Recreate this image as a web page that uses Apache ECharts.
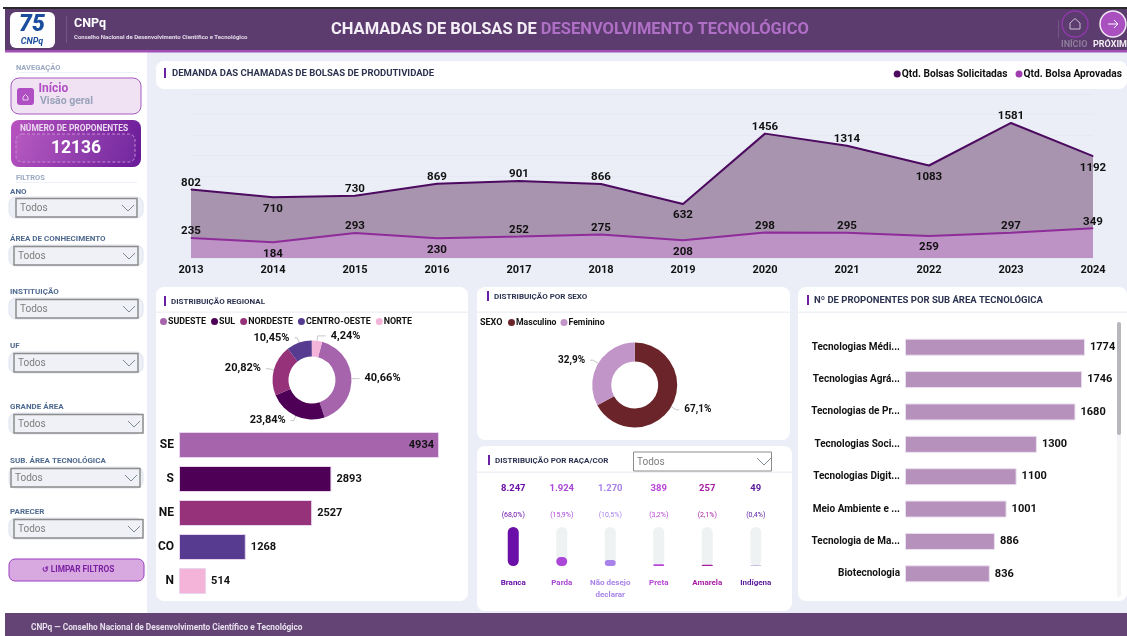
<!DOCTYPE html>
<html>
<head>
<meta charset="utf-8">
<title>CNPq</title>
<script src="https://cdn.jsdelivr.net/npm/echarts@6/dist/echarts.min.js"></script>
<style>
  html, body { margin: 0; padding: 0; background: #ffffff; overflow: hidden; }
  #root { width: 1127px; height: 636px; }
</style>
</head>
<body>
<div id="root"></div>
<script>
// demanda por ano
const years = ["2013", "2014", "2015", "2016", "2017", "2018", "2019", "2020", "2021", "2022", "2023", "2024"];
const solicitadas = [802, 710, 730, 869, 901, 866, 632, 1456, 1314, 1083, 1581, 1192];
const aprovadas = [235, 184, 293, 230, 252, 275, 208, 298, 295, 259, 297, 349];

// regioes
const regionNames = ["SUDESTE", "SUL", "NORDESTE", "CENTRO-OESTE", "NORTE"];
const regionCodes = ["SE", "S", "NE", "CO", "N"];
const regionValues = [4934, 2893, 2527, 1268, 514];

// sexo
const sexNames = ["Masculino", "Feminino"];
const sexValues = [67.1, 32.9];

// raca/cor
const raceNames = ["Branca", "Parda", "Não desejo\ndeclarar", "Preta", "Amarela", "Indígena"];
const raceValues = [8247, 1924, 1270, 389, 257, 49];
const racePct = ["68,0", "15,9", "10,5", "3,2", "2,1", "0,4"];

// sub areas
const subAreas = ["Tecnologias Médi...", "Tecnologias Agrá...", "Tecnologias de Pr...", "Tecnologias Soci...", "Tecnologias Digit...", "Meio Ambiente e ...", "Tecnologia de Ma...", "Biotecnologia"];
const subAreaValues = [1774, 1746, 1680, 1300, 1100, 1001, 886, 836];

const totalProponentes = "12136";

const FONT = "Roboto, sans-serif";
const regionColors = ["#a564ab", "#4e0056", "#953279", "#563b90", "#f4b4da"];
const sexColors = ["#6b2429", "#c295c8"];
const raceColors = ["#6a0fa8", "#ab47d6", "#a883ea", "#b946d8", "#a71ea3", "#5a189a"];

// pontos cujo rotulo fica abaixo da linha
const belowSolicitadas = [1, 6, 9, 11];
const belowAprovadas = [1, 3, 6, 9];

function rect(x, y, w, h, fill, r, extra) {
  return Object.assign({
    type: "rect", silent: true,
    shape: { x: x, y: y, width: w, height: h, r: r || 0 },
    style: { fill: fill }
  }, extra || {});
}

function text(x, y, str, font, fill, align) {
  return {
    type: "text", silent: true, x: x, y: y,
    style: { text: str, font: font + " " + FONT, fill: fill, align: align || "left", verticalAlign: "middle" }
  };
}

function line(points, stroke, width) {
  return {
    type: "polyline", silent: true,
    shape: { points: points },
    style: { stroke: stroke, lineWidth: width || 1, fill: null }
  };
}

function card(x, y, w, h, title, titleX, titleY, markX, font) {
  return [
    rect(x, y, w, h, "#ffffff", 8),
    rect(markX, titleY - 5, 2, 10, "#6a1fa5"),
    text(titleX, titleY + 0.5, title, font, "#2c3350")
  ];
}

function select(label, labelY, outerY, x, w) {
  return [
    text(10, labelY, label, "bold 8px", "#4f6a8f"),
    rect(9, outerY, 134, 21, "#eef0f7", 7, { style: { fill: "#eef0f7", stroke: "#dfe3ee", lineWidth: 1 } }),
    rect(x, outerY + 1.5, w, 18.5, "#eff1f6", 0, { style: { fill: "#eff1f6", stroke: "#8c8c8c", lineWidth: 1.5 } }),
    text(x + 4, outerY + 11.5, "Todos", "10px", "#7d7d7d"),
    line([[x + w - 15, outerY + 8], [x + w - 9, outerY + 14], [x + w - 3, outerY + 8]], "#7d8a94", 1)
  ];
}

const chrome = [].concat(
  // fundos
  rect(0, 0, 1127, 636, "#ffffff"),
  rect(147, 52, 980, 562, "#ebeef7"),
  rect(3, 7, 1124, 2, "#2a2a2a"),
  rect(5, 9, 1122, 41, "#5c3b6e"),
  rect(5, 50, 1122, 2.5, "#a24fb8"),
  rect(5, 613, 1122, 23, "#634475"),
  text(31, 628, "CNPq — Conselho Nacional de Desenvolvimento Científico e Tecnológico", "bold 8.3px", "#e8e0ec"),

  // cabecalho
  rect(10, 12, 45, 36, "#ffffff", 6),
  {
    type: "text", silent: true, x: 32, y: 25,
    style: { text: "75", font: "italic 900 23px " + FONT, fill: "#1b4f9e", align: "center", verticalAlign: "middle" }
  },
  {
    type: "text", silent: true, x: 32, y: 41.5,
    style: { text: "CNPq", font: "italic bold 9px " + FONT, fill: "#1b4f9e", align: "center", verticalAlign: "middle" }
  },
  rect(66, 16, 1, 27, "#725584"),
  text(74, 24, "CNPq", "bold 12.5px", "#ffffff"),
  text(74, 37, "Conselho Nacional de Desenvolvimento Científico e Tecnológico", "bold 6px", "#e3dbe8"),
  {
    type: "text", silent: true, x: 331, y: 30,
    style: {
      text: "{a|CHAMADAS DE BOLSAS DE }{b|DESENVOLVIMENTO TECNOLÓGICO}",
      verticalAlign: "middle",
      rich: {
        a: { font: "bold 16.5px " + FONT, fill: "#f4eff6" },
        b: { font: "bold 16.5px " + FONT, fill: "#b06fc6" }
      }
    }
  },
  rect(1058, 20, 1, 18, "#725584"),
  { type: "circle", silent: true, shape: { cx: 1075, cy: 24, r: 13 }, style: { fill: "none", stroke: "#8d3aa8", lineWidth: 1.5 } },
  line([[1070, 23], [1075, 18.5], [1080, 23], [1080, 29], [1070, 29], [1070, 23]], "#cdbdd6", 1),
  { type: "circle", silent: true, shape: { cx: 1113, cy: 24, r: 13 }, style: { fill: "#a94fc0", stroke: "#f2e8f5", lineWidth: 1.5 } },
  line([[1108, 24], [1118, 24]], "#ffffff", 1),
  line([[1114, 20], [1118, 24], [1114, 28]], "#ffffff", 1),
  text(1061, 45, "INÍCIO", "bold 9px", "#8e7d9a"),
  text(1093, 45, "PRÓXIM", "bold 9px", "#f2eef4"),

  // barra lateral
  text(16, 68, "NAVEGAÇÃO", "bold 7.5px", "#9aa8c0"),
  rect(16, 72, 121, 1, "#edf0f6"),
  rect(11, 78, 130, 36, "#f0e2f2", 8, { style: { fill: "#f0e2f2", stroke: "#a75bc1", lineWidth: 1 } }),
  rect(17, 88, 17, 17, "#b04fc4", 3),
  line([[23, 97], [25.5, 94.5], [28, 97], [28, 100], [23, 100], [23, 97]], "#e9cfee", 1),
  text(38.5, 89, "Início", "bold 12px", "#b04fc4"),
  text(40, 101, "Visão geral", "bold 10.5px", "#9aa3bb"),
  rect(11, 120, 130, 47, "#9036ad", 8, {
    style: {
      fill: {
        type: "linear", x: 0, y: 0, x2: 1, y2: 1,
        colorStops: [{ offset: 0, color: "#b854c0" }, { offset: 1, color: "#671a97" }]
      }
    }
  }),
  text(74, 129, "NÚMERO DE PROPONENTES", "bold 8.4px", "#ead9f0", "center"),
  rect(16, 134, 119, 28, "none", 6, { style: { fill: "rgba(255,255,255,0.05)", stroke: "#c68ad6", lineWidth: 1, lineDash: [3, 2] } }),
  text(76, 149, totalProponentes, "bold 17.5px", "#ffffff", "center"),
  text(16, 178, "FILTROS", "bold 7.5px", "#9aa8c0"),
  rect(16, 182, 121, 1, "#edf0f6"),
  select("ANO", 192, 197, 16, 121),
  select("ÁREA DE CONHECIMENTO", 239, 245, 14, 124),
  select("INSTITUIÇÃO", 292, 298, 16, 122),
  select("UF", 346, 352, 14, 124),
  select("GRANDE ÁREA", 407, 413, 14, 129),
  select("SUB. ÁREA TECNOLÓGICA", 461, 467, 11, 129),
  select("PARECER", 512, 518, 14, 129),
  rect(9, 559, 135, 22, "#d8a9e0", 6, { style: { fill: "#d8a9e0", stroke: "#9b3fc0", lineWidth: 1 } }),
  text(78, 570, "↺ LIMPAR FILTROS", "bold 8.3px", "#7b1fa2", "center"),

  // cartoes
  card(156, 61, 971, 28, "DEMANDA DAS CHAMADAS DE BOLSAS DE PRODUTIVIDADE", 172, 73, 164, "bold 9.5px"),
  card(156, 287, 312, 314, "DISTRIBUIÇÃO REGIONAL", 171, 301, 164, "bold 8px"),
  rect(156, 311.5, 312, 1.5, "#f0f2f8"),
  card(477, 287, 313, 153, "DISTRIBUIÇÃO POR SEXO", 494, 296, 487, "bold 8px"),
  rect(477, 311.5, 313, 1.5, "#f0f2f8"),
  text(480, 322.5, "SEXO", "bold 9px", "#111111"),
  card(477, 446, 315, 165, "DISTRIBUIÇÃO POR RAÇA/COR", 495, 460, 488, "bold 8px"),
  rect(477, 471.5, 315, 1.5, "#f0f2f8"),
  rect(633.5, 452, 138, 19, "#ffffff", 0, { style: { fill: "#ffffff", stroke: "#8c8c8c", lineWidth: 1 } }),
  text(637, 462.5, "Todos", "10px", "#7d7d7d"),
  line([[757, 458], [764, 465], [771, 458]], "#7d8a94", 1),
  card(798, 287, 329, 314, "Nº DE PROPONENTES POR SUB ÁREA TECNOLÓGICA", 814, 300, 807, "bold 9.5px"),
  rect(798, 311.5, 329, 1.5, "#f0f2f8"),
  rect(1117, 322, 4, 275, "#f4f4f6", 2),
  rect(1117, 322, 4, 113, "#b8b8bc", 2)
);

const regionTotal = regionValues.reduce(function (a, b) { return a + b; }, 0);

function pctLabel(params) {
  return (params.value / regionTotal * 100).toFixed(2).replace(".", ",") + "%";
}

function lineData(values, below) {
  return values.map(function (v, i) {
    const isBelow = below.indexOf(i) >= 0;
    return { value: v, label: { position: isBelow ? "bottom" : "top", distance: isBelow ? 5 : 0 } };
  });
}

const labelBold = { fontFamily: FONT, fontWeight: "bold", color: "#111111" };

const option = {
  animation: false,
  backgroundColor: "#ffffff",
  textStyle: { fontFamily: FONT },
  graphic: { elements: chrome },
  legend: [
    {
      data: ["Qtd. Bolsas Solicitadas", "Qtd. Bolsa Aprovadas"],
      top: 64, right: 0, icon: "circle", itemWidth: 7, itemHeight: 7, itemGap: 8,
      textStyle: { fontFamily: FONT, fontWeight: "bold", fontSize: 10.2, color: "#111111", padding: [0, 0, 0, -4] }
    },
    {
      data: regionNames,
      top: 312, left: 155, icon: "circle", itemWidth: 7, itemHeight: 7, itemGap: 5,
      textStyle: { fontFamily: FONT, fontWeight: "bold", fontSize: 8.9, color: "#111111", padding: [0, 0, 0, -4] }
    },
    {
      data: sexNames,
      top: 313, left: 503, icon: "circle", itemWidth: 7, itemHeight: 7, itemGap: 4,
      textStyle: { fontFamily: FONT, fontWeight: "bold", fontSize: 8.7, color: "#111111", padding: [0, 0, 0, -4] }
    }
  ],
  grid: [
    { left: 191, right: 34, top: 94, bottom: 636 - 258 },
    { left: 179, width: 260, top: 428, height: 170 },
    { left: 489, width: 291, top: 527, height: 39 },
    { left: 905, width: 180, top: 331, height: 259 }
  ],
  xAxis: [
    {
      type: "category", gridIndex: 0, data: years, boundaryGap: false,
      axisLine: { show: false }, axisTick: { show: false },
      axisLabel: { fontFamily: FONT, fontWeight: "bold", fontSize: 11, color: "#111111", margin: 7, interval: 0, alignMinLabel: "center", alignMaxLabel: "center" }
    },
    { type: "value", gridIndex: 1, min: 0, max: 4934, show: false },
    {
      type: "category", gridIndex: 2, data: raceNames,
      axisLine: { show: false }, axisTick: { show: false },
      axisLabel: {
        interval: 0, margin: 11, lineHeight: 12, fontFamily: FONT, fontWeight: "bold", fontSize: 8,
        color: function (v, i) { return raceColors[i]; }
      }
    },
    {
      type: "category", gridIndex: 2, position: "top", offset: 33, data: raceValues.map(function (v) { return v.toLocaleString("pt-BR"); }),
      axisLine: { show: false }, axisTick: { show: false },
      axisLabel: {
        interval: 0, margin: 0, fontFamily: FONT, fontWeight: "bold", fontSize: 9.5,
        color: function (v, i) { return raceColors[i]; }
      }
    },
    {
      type: "category", gridIndex: 2, position: "top", offset: 8, data: racePct.map(function (p) { return "(" + p + "%)"; }),
      axisLine: { show: false }, axisTick: { show: false },
      axisLabel: {
        interval: 0, margin: 0, fontFamily: FONT, fontSize: 7,
        color: function (v, i) { return raceColors[i]; }
      }
    },
    { type: "value", gridIndex: 3, min: 0, max: 1774, show: false }
  ],
  yAxis: [
    {
      type: "value", gridIndex: 0, min: 0, max: 1920, interval: 240,
      axisLabel: { show: false }, axisLine: { show: false }, axisTick: { show: false },
      splitLine: { lineStyle: { color: "#e6e9f3", width: 1 } }
    },
    {
      type: "category", gridIndex: 1, data: regionCodes, inverse: true,
      axisLine: { show: false }, axisTick: { show: false },
      axisLabel: { fontFamily: FONT, fontWeight: "bold", fontSize: 12, color: "#111111", margin: 5 }
    },
    { type: "value", gridIndex: 2, min: 0, max: 8247, show: false },
    {
      type: "category", gridIndex: 3, data: subAreas, inverse: true,
      axisLine: { show: false }, axisTick: { show: false },
      axisLabel: { fontFamily: FONT, fontWeight: "bold", fontSize: 10, color: "#111111", margin: 5, interval: 0 }
    }
  ],
  series: [
    {
      name: "Qtd. Bolsas Solicitadas", type: "line", xAxisIndex: 0, yAxisIndex: 0,
      data: lineData(solicitadas, belowSolicitadas),
      symbol: "circle", symbolSize: 1, showSymbol: true, showAllSymbol: true,
      itemStyle: { color: "#4c0a60" },
      lineStyle: { color: "#4c0a60", width: 2 },
      areaStyle: { color: "#a894ae", opacity: 1 },
      label: Object.assign({ show: true, fontSize: 11.5 }, labelBold), z: 3
    },
    {
      name: "Qtd. Bolsa Aprovadas", type: "line", xAxisIndex: 0, yAxisIndex: 0,
      data: lineData(aprovadas, belowAprovadas),
      symbol: "circle", symbolSize: 1, showSymbol: true, showAllSymbol: true,
      itemStyle: { color: "#a03db0" },
      lineStyle: { color: "#8e2c9a", width: 2 },
      areaStyle: { color: "#bd92c5", opacity: 1 },
      label: Object.assign({ show: true, fontSize: 11.5 }, labelBold), z: 4
    },
    {
      type: "pie", name: "regiao", center: [312, 380], radius: [23.5, 39.5], startAngle: 75,
      data: regionNames.map(function (n, i) {
        return {
          name: n, value: regionValues[i], itemStyle: { color: regionColors[i] },
          labelLine: { length2: i === 4 ? 8 : 3 }
        };
      }),
      label: Object.assign({ fontSize: 11, formatter: pctLabel }, labelBold),
      labelLine: { length: 5, lineStyle: { color: "#c8c8c8", width: 1 } }
    },
    {
      type: "bar", xAxisIndex: 1, yAxisIndex: 1, barWidth: 26,
      data: regionValues.map(function (v, i) {
        return {
          value: v,
          itemStyle: { color: regionColors[i] },
          label: { position: i === 0 ? "insideRight" : "right" }
        };
      }),
      itemStyle: { borderColor: "#e8d6ee", borderWidth: 1 },
      label: Object.assign({ show: true, fontSize: 11, distance: 5 }, labelBold)
    },
    {
      type: "pie", name: "sexo", center: [634.7, 385], radius: [23.5, 42.5], startAngle: 90,
      data: sexNames.map(function (n, i) {
        return { name: n, value: sexValues[i], itemStyle: { color: sexColors[i] } };
      }),
      label: Object.assign({
        fontSize: 10,
        formatter: function (p) { return p.value.toFixed(1).replace(".", ",") + "%"; }
      }, labelBold),
      labelLine: { length: 6, length2: 3, lineStyle: { color: "#c8c8c8", width: 1 } }
    },
    {
      type: "bar", xAxisIndex: 2, yAxisIndex: 2, barWidth: 11,
      data: raceValues.map(function (v, i) {
        return { value: v, itemStyle: { color: raceColors[i] } };
      }),
      itemStyle: { borderRadius: 5.5 },
      showBackground: true,
      backgroundStyle: { color: "#eff2f2", borderRadius: 5.5 }
    },
    {
      type: "bar", xAxisIndex: 5, yAxisIndex: 3, barWidth: 17,
      data: subAreaValues,
      itemStyle: { color: "#b691bb", borderColor: "#eadff0", borderWidth: 1 },
      label: Object.assign({ show: true, position: "right", fontSize: 11, distance: 5 }, labelBold)
    }
  ]
};

const myChart = echarts.init(document.getElementById("root"), null, { renderer: "canvas" });
myChart.setOption(option);
</script>
</body>
</html>
